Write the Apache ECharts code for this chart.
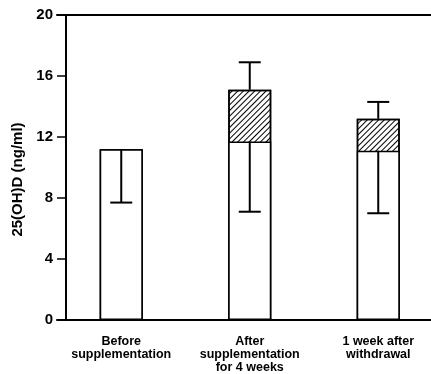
<!DOCTYPE html>
<html>
<head>
<meta charset="utf-8">
<script src="https://cdn.jsdelivr.net/npm/echarts@6/dist/echarts.min.js"></script>
<style>html,body{margin:0;padding:0;background:#fff}#c{width:431px;height:374px}</style>
</head>
<body>
<div id="c"></div>
<script>
var categories = ['Before\nsupplementation', 'After\nsupplementation\nfor 4 weeks', '1 week after\nwithdrawal'];
var baselineValues = [11.2, 11.7, 11.1];
var totalValues = [11.2, 15.1, 13.2];
var errLow = [7.7, 7.1, 7.0];
var errHigh = [null, 16.9, 14.3];
var yTicks = [0, 4, 8, 12, 16, 20];

var FONT = '"Liberation Sans", Arial, Helvetica, sans-serif';
var chart = echarts.init(document.getElementById('c'), null, {renderer: 'canvas'});

var errData = categories.map(function (c, i) {
  return [i, baselineValues[i], totalValues[i], errLow[i], errHigh[i]];
});

chart.setOption({
  animation: false,
  backgroundColor: '#fff',
  grid: {left: 57, right: -11.5, top: 15, bottom: 54, containLabel: false, outerBoundsMode: 'none'},
  xAxis: [{
    type: 'category',
    data: categories,
    position: 'bottom',
    axisLine: {lineStyle: {color: '#000', width: 2}},
    axisTick: {show: false},
    axisLabel: {color: '#000', fontFamily: FONT, fontWeight: 'bold', fontSize: 12.5, lineHeight: 13, margin: 15, interval: 0}
  }, {
    type: 'category',
    data: categories,
    position: 'top',
    axisLine: {lineStyle: {color: '#000', width: 2}},
    axisTick: {show: false},
    axisLabel: {show: false}
  }],
  yAxis: {
    type: 'value',
    min: yTicks[0],
    max: yTicks[yTicks.length - 1],
    interval: 4,
    offset: -9,
    name: '25(OH)D (ng/ml)',
    nameLocation: 'middle',
    nameGap: 38,
    nameTextStyle: {color: '#000', fontFamily: FONT, fontWeight: 'bold', fontSize: 15, padding: [0, 24, 0, 0]},
    axisLine: {show: true, lineStyle: {color: '#000', width: 2}},
    axisTick: {show: true, inside: false, length: 9, lineStyle: {color: '#000', width: 1.5}},
    axisLabel: {color: '#000', fontFamily: FONT, fontWeight: 'bold', fontSize: 15, margin: 13},
    splitLine: {show: false}
  },
  series: [{
    type: 'bar',
    data: totalValues,
    barWidth: 43,
    barGap: '-100%',
    itemStyle: {
      color: '#fff',
      borderColor: '#000',
      borderWidth: 1.5,
      decal: {symbol: 'rect', symbolSize: 1, color: '#000', dashArrayX: [1, 0], dashArrayY: [1, 3], rotation: -Math.PI / 4}
    }
  }, {
    type: 'bar',
    data: baselineValues,
    barWidth: 43,
    barGap: '-100%',
    itemStyle: {color: '#fff', borderColor: '#000', borderWidth: 1.5}
  }, {
    type: 'custom',
    data: errData,
    z: 10,
    renderItem: function (params, api) {
      var i = api.value(0);
      var base = api.coord([i, api.value(1)]);
      var top = api.coord([i, api.value(2)]);
      var lo = api.coord([i, api.value(3)]);
      var hiV = api.value(4);
      var x = base[0];
      var cap = 11;
      var st = {stroke: '#000', lineWidth: 2};
      var children = [
        {type: 'line', shape: {x1: x, y1: base[1], x2: x, y2: lo[1]}, style: st},
        {type: 'line', shape: {x1: x - cap, y1: lo[1], x2: x + cap, y2: lo[1]}, style: st}
      ];
      if (hiV != null && !isNaN(hiV)) {
        var hi = api.coord([i, hiV]);
        children.push({type: 'line', shape: {x1: x, y1: top[1], x2: x, y2: hi[1]}, style: st});
        children.push({type: 'line', shape: {x1: x - cap, y1: hi[1], x2: x + cap, y2: hi[1]}, style: st});
      }
      return {type: 'group', children: children};
    }
  }]
});
</script>
</body>
</html>
